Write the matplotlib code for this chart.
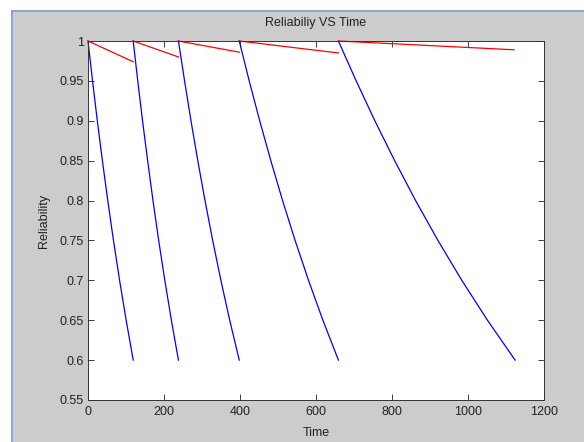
import numpy as np
import matplotlib
matplotlib.use('Agg')
import matplotlib.pyplot as plt
from matplotlib.patches import Rectangle

# Blue curves: reliability levels and read-off times for each segment
r_levels = [1.0, 0.95, 0.9, 0.85, 0.8, 0.75, 0.7, 0.65, 0.6]
blue_t1 = [0, 11.9, 24.5, 37.9, 52.0, 67.0, 83.1, 100.4, 119]
blue_t2 = [119, 130.9, 143.5, 156.9, 171.0, 186.0, 202.1, 219.4, 238]
blue_t3 = [238, 254.1, 271.0, 288.9, 307.9, 328.1, 349.7, 372.9, 398]
blue_t4 = [398, 424.2, 451.8, 481.1, 512.0, 545.0, 580.3, 618.1, 659]
blue_t5 = [659, 705.7, 754.9, 807.0, 862.1, 920.9, 983.7, 1051.2, 1124]

# Red lines: start / end time and end reliability
red_start = [0, 119, 238, 398, 659]
red_end = [119, 238, 398, 659, 1121]
red_end_r = [0.974, 0.980, 0.986, 0.985, 0.989]

plt.rcParams['font.family'] = ['Liberation Sans', 'DejaVu Sans']

fig = plt.figure(figsize=(5.84, 4.42), dpi=100, facecolor='#cccccc')
# window frame: white strip at top/left with a blue border line
fig.patches.append(Rectangle((0, 1 - 10/442), 1, 10/442, transform=fig.transFigure,
                             facecolor='white', edgecolor='none', zorder=-1))
fig.patches.append(Rectangle((0, 0), 11/584, 1, transform=fig.transFigure,
                             facecolor='white', edgecolor='none', zorder=-1))
fig.lines.append(plt.Line2D([11.5/584, 1], [1 - 10.5/442, 1 - 10.5/442], transform=fig.transFigure,
                            color='#7f9fd0', lw=1.2))
fig.lines.append(plt.Line2D([11.5/584, 11.5/584], [0, 1 - 10.5/442], transform=fig.transFigure,
                            color='#7f9fd0', lw=1.2))

ax = fig.add_axes([88/584, 42/442, 456/584, 359/442])
ax.set_facecolor('white')

for bt in [blue_t1, blue_t2, blue_t3, blue_t4, blue_t5]:
    ax.plot(bt, r_levels, color='#0000ff', lw=0.9, clip_on=False)
for t0, t1, r1 in zip(red_start, red_end, red_end_r):
    ax.plot([t0, t1], [1.0, r1], color='#ff0000', lw=0.9, clip_on=False)

ax.set_xlim(0, 1200)
ax.set_ylim(0.55, 1.0)
ax.set_xticks(np.arange(0, 1201, 200))
ax.set_yticks(np.arange(0.55, 1.001, 0.05))
ax.set_yticklabels(['0.55', '0.6', '0.65', '0.7', '0.75', '0.8', '0.85', '0.9', '0.95', '1'])
ax.tick_params(direction='in', top=True, right=True, length=4, width=0.6,
               labelsize=9, colors='#222222')
ax.tick_params(axis='x', pad=4)
ax.tick_params(axis='y', pad=3)
for s in ax.spines.values():
    s.set_linewidth(0.7)
    s.set_color('#333333')

ax.set_title('Reliabiliy VS Time', fontsize=9, color='#222222', pad=11)
ax.set_xlabel('Time', fontsize=9, color='#222222', labelpad=7)
ax.set_ylabel('Reliability', fontsize=9, color='#222222', labelpad=7)

fig.savefig('out.png', dpi=100, facecolor=fig.get_facecolor())
